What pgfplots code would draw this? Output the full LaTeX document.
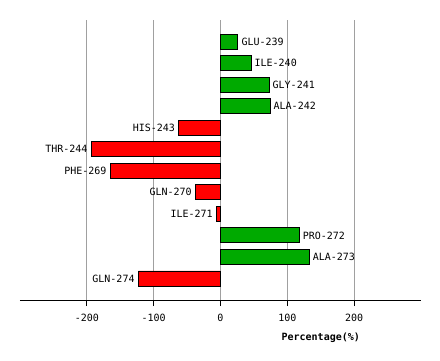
\documentclass[border=0pt]{standalone}
\usepackage{fontspec}
\setmainfont{DejaVu Sans Mono}
\usepackage{pgfplots}
\pgfplotsset{compat=1.18}
\usepackage{pgfplotstable}
\definecolor{barGreen}{RGB}{0,170,0}
\definecolor{barRed}{RGB}{255,0,0}
\definecolor{gridGrey}{RGB}{160,160,160}

\pgfplotstableread{
y x label
1 26 GLU-239
2 45.5 ILE-240
3 72.5 GLY-241
4 74 ALA-242
10 117.5 PRO-272
11 132.5 ALA-273
}\posdata
\pgfplotstableread{
y x label
5 -62.5 HIS-243
6 -193.5 THR-244
7 -165 PHE-269
8 -37.5 GLN-270
9 -6 ILE-271
12 -123 GLN-274
}\negdata

\begin{document}
\begin{tikzpicture}[x=1pt,y=1pt]
\useasboundingbox (0,0) rectangle (440,360);
\begin{axis}[
  at={(20pt,60pt)}, anchor=south west,
  scale only axis, width=401pt, height=280pt,
  xmin=-300, xmax=300, ymin=0, ymax=13, y dir=reverse,
  axis x line*=bottom, axis y line=none,
  x axis line style={black, line width=0.8pt, -},
  xtick={-200,-100,0,100,200},
  xticklabels={-200,-100,0,100,200},
  tick align=outside, major tick length=6pt,
  x tick style={black, line width=0.8pt},
  xmajorgrids, grid style={gridGrey, line width=0.8pt},
  xticklabel style={font=\fontsize{10}{12}\selectfont, yshift=-5pt},
  xlabel={\bfseries Percentage(\%)},
  xlabel style={at={(rel axis cs:0.75,0)}, anchor=north, yshift=-29pt, font=\fontsize{10}{12}\selectfont},
  xbar, bar width=15pt, bar shift=0pt,
  nodes near coords, point meta=explicit symbolic,
  every node near coord/.append style={font=\fontsize{10}{12}\selectfont, text=black},
]
\addplot[draw=black, line width=0.8pt, fill=barGreen,
  every node near coord/.append style={anchor=west}]
  table[x=x, y=y, meta=label] {\posdata};
\addplot[draw=black, line width=0.8pt, fill=barRed,
  every node near coord/.append style={anchor=east}]
  table[x=x, y=y, meta=label] {\negdata};
\end{axis}
\end{tikzpicture}
\end{document}
